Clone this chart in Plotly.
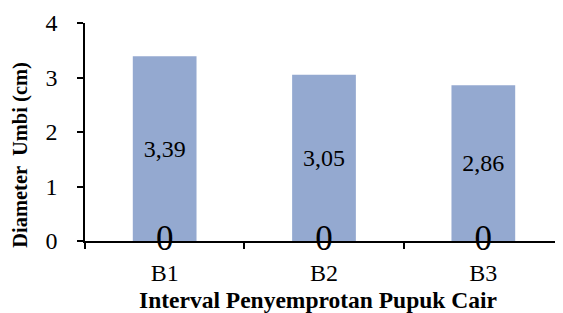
import plotly.graph_objects as go

categories = ["B1", "B2", "B3"]
diameter = [3.39, 3.05, 2.86]
zero_labels = [0, 0, 0]
y_ticks = [0, 1, 2, 3, 4]
x_title = "Interval Penyemprotan Pupuk Cair"
y_title = "Diameter  Umbi (cm)"

font_family = "Liberation Serif"

fig = go.Figure()
fig.add_trace(go.Bar(
    x=categories, y=diameter, width=0.4,
    marker=dict(color="#94A9D0", line=dict(width=0)),
    texttemplate="%{y:.2f}", textposition="inside", insidetextanchor="middle",
    textfont=dict(family=font_family, size=24, color="black"),
    hoverinfo="skip",
))
fig.add_trace(go.Scatter(
    x=categories, y=zero_labels, mode="text",
    text=[str(v) for v in zero_labels], textposition="middle center",
    textfont=dict(family=font_family, size=35, color="black"),
    cliponaxis=False, hoverinfo="skip",
))

# The page body has an 8px default margin, so the figure is drawn 8px smaller
# and its margins are reduced by 8px to land at the reference positions.
fig.update_layout(
    width=555, height=305,
    margin=dict(l=77, r=0, t=15, b=72, autoexpand=False),
    paper_bgcolor="white", plot_bgcolor="white",
    showlegend=False, separators=",.",
    font=dict(family=font_family, color="black"),
    xaxis=dict(
        type="category", range=[-0.5, 2.5], automargin=False,
        showline=True, linecolor="black", linewidth=1.5,
        ticks="outside", tickson="boundaries", ticklen=6, tickcolor="black", tickwidth=1.5,
        tickfont=dict(size=24, family=font_family), ticklabelstandoff=9,
        showgrid=False, zeroline=False,
    ),
    yaxis=dict(
        range=[0, 4], tickvals=y_ticks, automargin=False,
        showline=True, linecolor="black", linewidth=1.5,
        ticks="outside", ticklen=6, tickcolor="black", tickwidth=1.5,
        tickfont=dict(size=24, family=font_family), ticklabelstandoff=15,
        showgrid=False, zeroline=False,
    ),
    annotations=[
        dict(text="<b>" + x_title + "</b>", xref="paper", yref="paper",
             x=0.4874, y=-0.27, xanchor="center", yanchor="middle",
             showarrow=False, font=dict(size=23.5, family=font_family)),
        dict(text="<b>" + y_title + "</b>", xref="paper", yref="paper",
             x=-0.134, y=0.395, xanchor="center", yanchor="middle",
             textangle=-90, showarrow=False, font=dict(size=20.5, family=font_family)),
    ],
)

fig.write_html("out.html")
